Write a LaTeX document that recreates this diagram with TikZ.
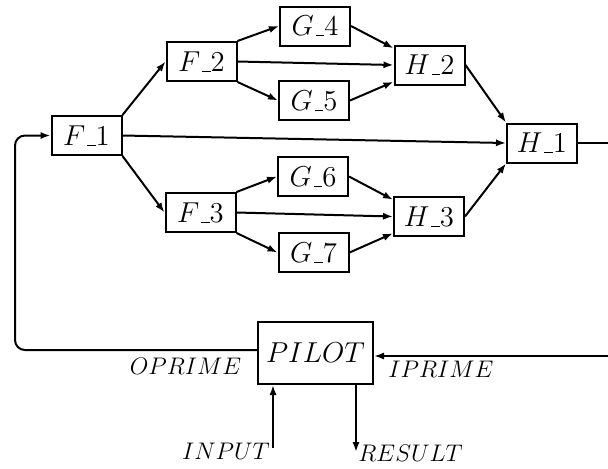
\documentclass[tikz,border=0pt]{standalone}
\usetikzlibrary{arrows.meta}
% short low bar between block letter and number
\newcommand{\subbar}{\mbox{\kern.06em\vbox{\hrule width.3em}}}
\begin{document}
\begin{tikzpicture}[x=0.5pt, y=-0.5pt, >={Latex[length=5pt,width=3.6pt]}]
\useasboundingbox (0,0) rectangle (608,468);
\begin{scope}[every node/.style = {rectangle, draw, line width=1pt, minimum width=35pt, minimum height=19.5pt, inner sep=1pt, font=\Large}]
\node (f1) at (86.5, 135.5) {$F\subbar1$};
\node (f2) at (201.5, 61.5) {$F\subbar2$};
\node (f3) at (200.5, 212.5) {$F\subbar3$};
\node (g4) at (315, 26) {$G\subbar4$};
\node (g5) at (314, 100.5) {$G\subbar5$};
\node (g6) at (313, 176.5) {$G\subbar6$};
\node (g7) at (313.5, 252.5) {$G\subbar7$};
\node (h2) at (429.5, 65) {$H\subbar2$};
\node (h3) at (429, 216.5) {$H\subbar3$};
\node (h1) at (542, 143) {$H\subbar1$};
\node[minimum width=57.5pt, minimum height=31pt] (pilot) at (315.5, 353) {$PILOT$};
\end{scope}
% signal names
\begin{scope}[every node/.style = {font=\large, inner sep=0pt}]
\node (oprime) at (185.5, 366.5) {$OPRIME$};
\node (iprime) at (441, 369.5) {$IPRIME$};
\node[anchor=east] (inlbl) at (270, 451.5) {$INPUT$};
\node[anchor=west] (reslbl) at (358, 453) {$RESULT$};
\end{scope}
% free ends at the border
\coordinate (hout) at (608, 143);
\coordinate (pin) at (608, 356);
\coordinate (loop) at (15, 350);
\coordinate (inp) at (273, 448);
\coordinate (res) at (356, 452);
\begin{scope}[every edge/.style = {draw, ->, line width=1pt}]
\path (f1.north east) edge (f2.west);
\path (f1.south east) edge (f3.west);
\path (f1.east) edge (h1.west);
\path (f2.north east) edge (g4.west);
\path (f2.east) edge (h2.west);
\path (f2.south east) edge (g5.west);
\path (f3.north east) edge (g6.west);
\path (f3.east) edge (h3.west);
\path (f3.south east) edge (g7.west);
\path (g4.east) edge (h2.155);
\path (g5.east) edge (h2.205);
\path (g6.east) edge (h3.155);
\path (g7.east) edge (h3.205);
\path (h2.east) edge (h1.north west);
\path (h3.east) edge (h1.south west);
\path (pin) edge (pin -| pilot.east);
\path (inp) edge (inp |- pilot.south);
\path (res |- pilot.south) edge (res);
\end{scope}
\draw[line width=1pt] (h1.east) -- (hout);
\draw[->, line width=1pt, rounded corners=5pt] (pilot.west |- loop) -- (loop) |- (f1.west);
\end{tikzpicture}
\end{document}
